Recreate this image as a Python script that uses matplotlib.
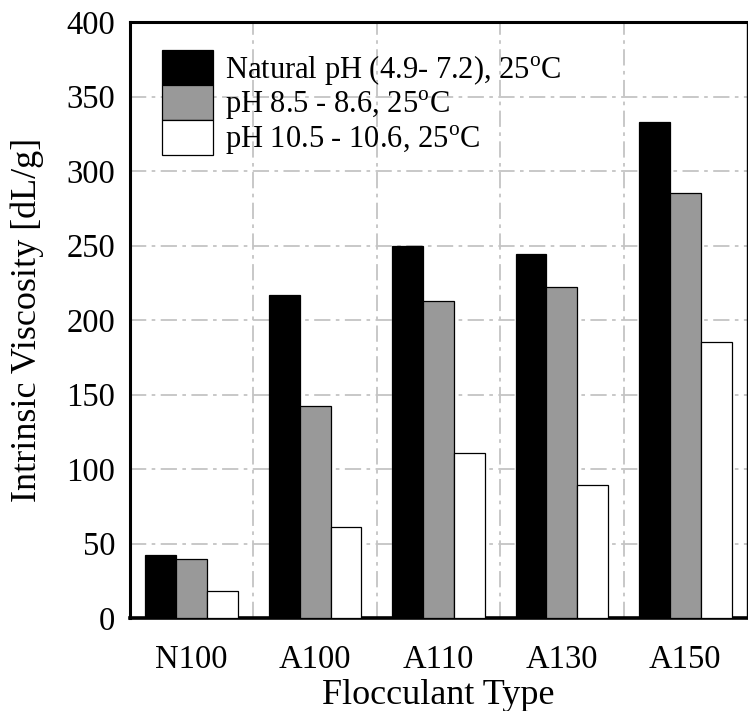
import matplotlib
matplotlib.use("Agg")
import matplotlib.pyplot as plt
import numpy as np

categories = ["N100", "A100", "A110", "A130", "A150"]
natural_ph = [42.1, 217.0, 250.0, 244.2, 333.0]
ph_85 = [39.9, 142.4, 212.8, 222.0, 285.2]
ph_105 = [17.9, 61.2, 110.6, 89.0, 185.0]
series_labels = ["Natural pH (4.9- 7.2), 25$^{\\mathrm{o}}$C",
                 "pH 8.5 - 8.6, 25$^{\\mathrm{o}}$C",
                 "pH 10.5 - 10.6, 25$^{\\mathrm{o}}$C"]
series_colors = ["#000000", "#999999", "#ffffff"]
yticks = [0, 50, 100, 150, 200, 250, 300, 350, 400]

plt.rcParams['font.family'] = ['Liberation Serif', 'DejaVu Serif']
plt.rcParams['mathtext.fontset'] = 'custom'
plt.rcParams['mathtext.rm'] = 'Liberation Serif'

DPI = 100
fig = plt.figure(figsize=(7.48, 7.11), dpi=DPI)
ax = fig.add_axes([130/748, 1-618/711, (747-130)/748, (618-22)/711])

x = np.arange(len(categories))
w = 0.25
for i, (vals, col, lab) in enumerate(zip([natural_ph, ph_85, ph_105], series_colors, series_labels)):
    ax.bar(x + (i-1)*w, vals, width=w, color=col, edgecolor='black', linewidth=0.9,
           label=lab, zorder=3)

ax.set_xlim(-0.5, 4.5)
ax.set_ylim(0, 400)
ax.set_yticks(yticks)
ax.set_xticks(x)
ax.set_xticklabels(categories)
ax.set_xticks(np.arange(0.5, 4.5, 1.0), minor=True)

grid_kw = dict(color='#c4c4c4', linewidth=1.3, linestyle=(0, (9, 3, 2, 3)), zorder=0)
ax.grid(False)
ax.yaxis.grid(True, which='major', **grid_kw)
ax.xaxis.grid(True, which='minor', **grid_kw)

ax.tick_params(axis='both', which='both', length=0, labelsize=23.5)
ax.tick_params(axis='y', pad=10.5)
ax.tick_params(axis='x', pad=19)

for s in ['top', 'left']:
    ax.spines[s].set_linewidth(2.2)
ax.spines['bottom'].set_linewidth(2.6)
ax.spines['right'].set_linewidth(1.0)

ax.set_xlabel("Flocculant Type", fontsize=26, labelpad=3)
ax.set_ylabel("Intrinsic Viscosity [dL/g]", fontsize=26, labelpad=16)

LFS = 22
lfs_px = LFS * DPI / 72.0
target_pitch = 35.0
# patch height = fs*(0.65*hh + 0.245) in matplotlib's legend handle box
hh = (target_pitch / lfs_px - 0.245) / 0.65
anchor = ((162-130)/617, 1-(50-22)/596)

def make_legend(ls):
    return ax.legend(loc='upper left', frameon=False, fontsize=LFS,
                     handlelength=51.0/lfs_px, handleheight=hh, labelspacing=ls,
                     handletextpad=12.0/lfs_px, borderaxespad=0.0, borderpad=0.0,
                     bbox_to_anchor=anchor)

ls = 0.0
leg = make_legend(ls)
fig.canvas.draw()
r = fig.canvas.get_renderer()
hs = leg.legend_handles
b0 = hs[0].get_window_extent(r)
b1 = hs[1].get_window_extent(r)
pitch = b0.y0 - b1.y0
ls = ls + (target_pitch - pitch) / lfs_px
leg.remove()
leg = make_legend(ls)

fig.savefig("out.png", dpi=DPI)
